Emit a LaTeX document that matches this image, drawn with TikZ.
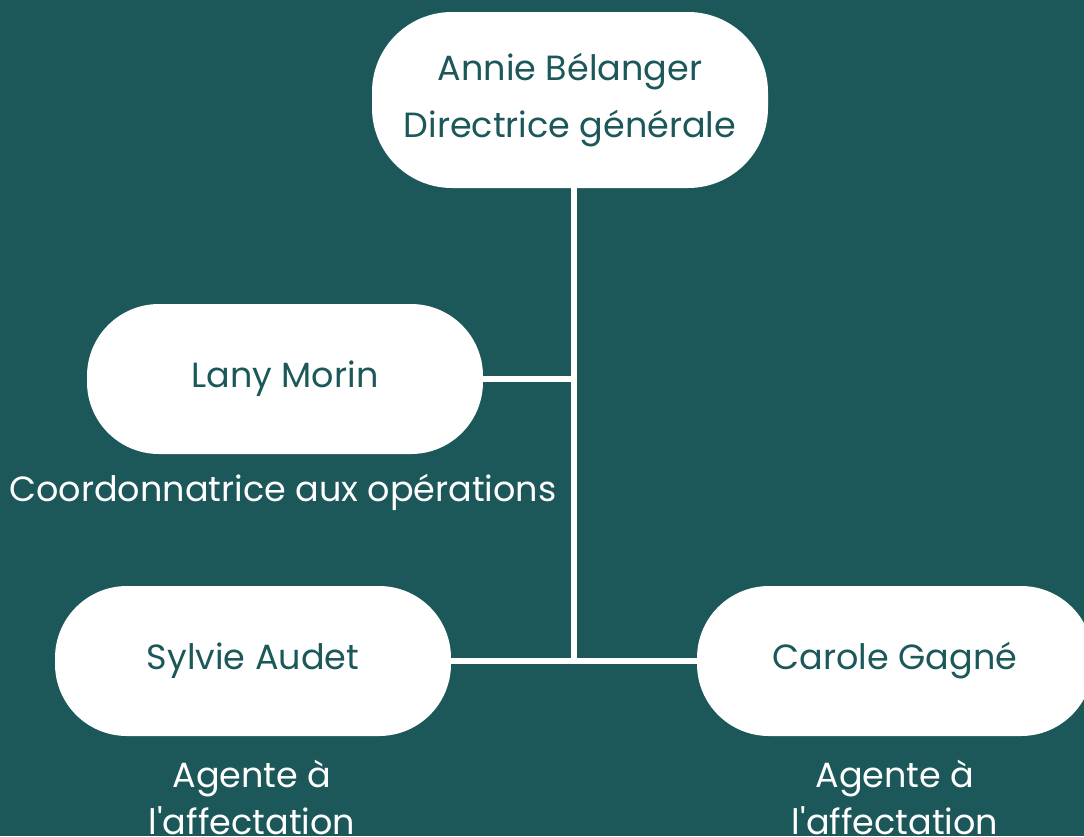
\documentclass[tikz,border=0pt]{standalone}
\usepackage{fontspec}
\setmainfont{Poppins}
\usepackage{tikz}
\usetikzlibrary{positioning}

\definecolor{orgteal}{RGB}{28,88,89}

\tikzset{
	person/.style={fill=white,text=orgteal,rounded corners=72pt,minimum width=396pt,
		minimum height=150pt,align=center,inner sep=0pt,font=\fontsize{35}{57}\selectfont},
	role/.style={text=white,align=center,inner sep=0pt,font=\fontsize{35}{47}\selectfont},
	link/.style={draw=white,line width=6pt}
}

\begin{document}
\begin{tikzpicture}[x=1pt,y=-1pt]
		\useasboundingbox (0,0) rectangle (1084,836);
		\fill[orgteal] (0,0) rectangle (1084,836);
		\clip (0,0) rectangle (1084,836);
		%
		\node[person,minimum height=176pt,rounded corners=80pt] (dg) at (570,100) {Annie Bélanger\\Directrice générale};
		\node[person] (lany) at (285,379) {Lany Morin};
		\node[person] (sylvie) at (253,661) {Sylvie Audet};
		\node[person] (carole) at (895,661) {Carole Gagné};
		%
		\node[role] (lanyrole) at (283,492) {Coordonnatrice aux opérations};
		\node[role] (sylvierole) at (252,797) {Agente à\\l\textquotesingle affectation};
		\node[role] (carolerole) at (895,797) {Agente à\\l\textquotesingle affectation};
		%
		\coordinate (top) at ([xshift=4pt]dg.south);
		\coordinate (J1) at (top |- lany.east);
		\coordinate (J2) at (top |- sylvie.east);
		\path[link]
		(top) edge (J2)
		(lany.east) edge ([xshift=3pt]J1)
		(sylvie.east) edge (carole.west);
\end{tikzpicture}
\end{document}
